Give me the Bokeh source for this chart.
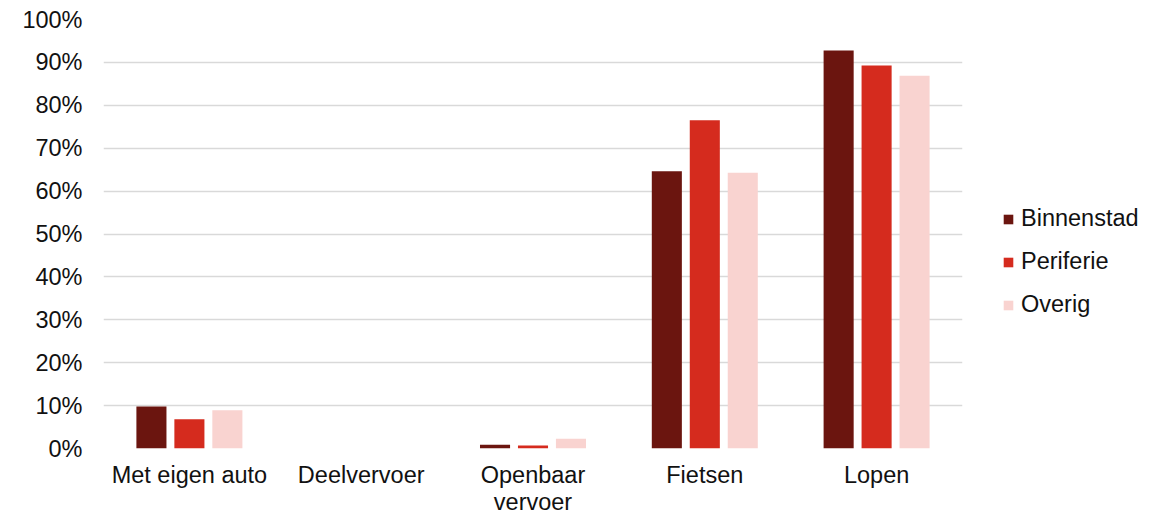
from bokeh.plotting import figure
from bokeh.models import FactorRange, Legend, LegendItem, FixedTicker, PrintfTickFormatter
from bokeh.transform import dodge
from bokeh.models import ColumnDataSource
from bokeh.embed import file_html
from bokeh.resources import INLINE

categories = ["Met eigen auto", "Deelvervoer", "Openbaar\nvervoer", "Fietsen", "Lopen"]
series = ["Binnenstad", "Periferie", "Overig"]
binnenstad = [9.8, 0.0, 0.9, 64.6, 92.8]
periferie = [6.8, 0.0, 0.7, 76.5, 89.3]
overig = [8.9, 0.0, 2.3, 64.3, 86.9]
colors = ["#6B150F", "#D52B1E", "#F9D3D0"]
y_ticks = [0, 10, 20, 30, 40, 50, 60, 70, 80, 90, 100]

src = ColumnDataSource(dict(cat=categories, Binnenstad=binnenstad, Periferie=periferie, Overig=overig))

p = figure(x_range=FactorRange(*categories, range_padding=0), y_range=(0, 100),
           width=1160, height=515, output_backend="svg", toolbar_location=None,
           min_border_left=103, min_border_top=19, min_border_bottom=67, min_border_right=198)
p.frame_width = 859
p.frame_height = 429

offsets = [-0.221, 0.0, 0.221]
renderers = []
for s, c, o in zip(series, colors, offsets):
    r = p.vbar(x=dodge("cat", o, range=p.x_range), top=s, width=0.175, source=src,
               fill_color=c, line_color=None)
    renderers.append(r)

font = "Liberation Sans"
txt = "#111111"
fs = "23.5px"
p.outline_line_color = None
p.xgrid.grid_line_color = None
p.ygrid.grid_line_color = "#d9d9d9"
p.ygrid.grid_line_width = 1.5

p.yaxis.ticker = FixedTicker(ticks=y_ticks)
p.yaxis.formatter = PrintfTickFormatter(format="%d%%")
for ax in (p.xaxis, p.yaxis):
    ax.axis_line_color = None
    ax.major_tick_line_color = None
    ax.minor_tick_line_color = None
    ax.major_label_text_font = font
    ax.major_label_text_font_size = fs
    ax.major_label_text_color = txt
p.yaxis.major_label_standoff = 15
p.xaxis.major_label_standoff = 7
p.xaxis.major_label_text_line_height = 1.05

legend = Legend(items=[LegendItem(label=s, renderers=[r]) for s, r in zip(series, renderers)],
                location=(40, 130), orientation="vertical")
legend.border_line_color = None
legend.background_fill_alpha = 0
legend.padding = 0
legend.margin = 0
legend.spacing = 16
legend.glyph_width = 12
legend.glyph_height = 12
legend.label_standoff = 7
legend.label_text_font = font
legend.label_text_font_size = fs
legend.label_text_color = txt
p.add_layout(legend, "right")

open("out.html", "w").write(file_html(p, INLINE))
